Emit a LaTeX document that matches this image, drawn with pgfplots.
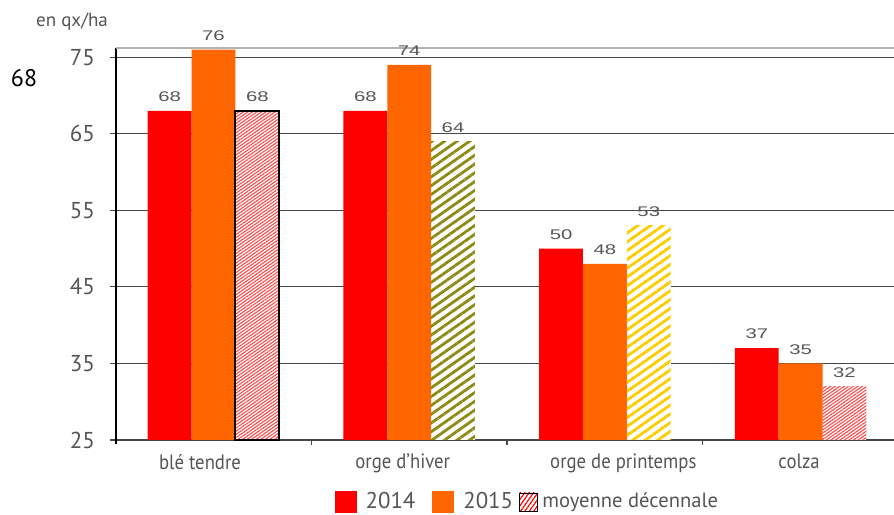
\documentclass[border=0pt]{standalone}
\usepackage{pgfplots}
\pgfplotsset{compat=1.18}
\usepackage{fontspec}
\setmainfont{PT Sans}
\newfontfamily\catfont[FakeStretch=0.9]{PT Sans}
\newfontfamily\widefont[FakeStretch=1.45]{Liberation Sans}
\usetikzlibrary{patterns.meta}
\definecolor{rA}{RGB}{255,0,0}
\definecolor{oB}{RGB}{255,102,0}
\definecolor{olv}{RGB}{140,140,20}
\definecolor{yel}{RGB}{255,204,0}
\definecolor{pnk}{RGB}{255,70,70}
\definecolor{gridc}{RGB}{70,70,70}
\definecolor{txt}{RGB}{85,85,85}
\begin{document}
\begin{tikzpicture}
\path[use as bounding box] (0,0) rectangle (447pt,257pt);
\node[font=\fontsize{12}{13}\selectfont, text=black] at (12pt,218pt) {68};
\node[font=\fontsize{9.5}{11}\selectfont, text=txt] at (36pt,246pt) {en qx/ha};
\begin{axis}[
  at={(58pt,37pt)}, anchor=south west,
  scale only axis, width=389pt, height=196pt,
  xmin=-0.498, xmax=3.477, ymin=25, ymax=76.2,
  axis x line*=bottom, axis y line*=left,
  axis line style={-},
  x axis line style={draw=gridc, line width=0.6pt},
  y axis line style={draw=black, line width=0.9pt},
  ytick={25,35,45,55,65,75},
  xtick={-0.069,0.967,2.094,2.992},
  xticklabels={blé tendre, orge d’hiver, orge de printemps, colza},
  xtick style={draw=none},
  minor xtick={0.5,1.5,2.5},
  minor x tick style={draw=gridc, line width=0.6pt},
  minor tick length=2.5pt,
  ytick style={draw=gridc, line width=0.6pt},
  tick align=outside, major tick length=3pt,
  ymajorgrids, grid style={draw=gridc, line width=0.6pt},
  /pgf/number format/assume math mode=true,
  yticklabel style={font=\fontsize{11.5}{13}\selectfont, text=txt, xshift=-4pt},
  xticklabel style={font=\catfont\fontsize{10.4}{12}\selectfont, text=txt, yshift=-0.5pt},
  bar width=0.224,
  nodes near coords,
  nodes near coords style={font=\widefont\fontsize{7}{8}\selectfont, text=txt, anchor=south, yshift=1pt},
  legend style={at={(0.53,-0.158)}, anchor=center, draw=none, fill=none,
    legend columns=3, font=\fontsize{10.3}{12}\selectfont, text=txt,
    /tikz/column 1/.style={column sep=2.5pt},
    /tikz/column 2/.style={column sep=6.5pt},
    /tikz/column 3/.style={column sep=2.5pt},
    /tikz/column 4/.style={column sep=1pt},
    /tikz/column 5/.style={column sep=0pt}},
  legend image code/.code={\fill[#1] (0pt,-5.5pt) rectangle (11pt,5.5pt);},
  clip=false,
]
\draw[gray!60, line width=0.6pt] (rel axis cs:0,1) -- (rel axis cs:1,1);
\draw[black, line width=0.9pt] (rel axis cs:0,0) -- ([yshift=-2pt]rel axis cs:0,0);
\addplot[ybar, bar shift=0pt, fill=rA, draw=none] coordinates {(-0.224,68) (0.776,68) (1.776,50) (2.776,37)};
\addlegendentry{\fontsize{11.4}{13}\selectfont 2014}
\addplot[ybar, bar shift=0pt, fill=oB, draw=none] coordinates {(0,76) (1,74) (2,48) (3,35)};
\addlegendentry{\fontsize{11.4}{13}\selectfont 2015}
\addplot[ybar, bar shift=0pt, draw=black, line width=0.9pt, fill=white, postaction={pattern={Lines[angle=35,distance=1.3pt,line width=0.55pt]}, pattern color=pnk}, forget plot] coordinates {(0.224,68)};
\addplot[ybar, bar shift=0pt, draw=none, fill=white, postaction={pattern={Lines[angle=35,distance=3.6pt,line width=1.4pt]}, pattern color=olv}, forget plot] coordinates {(1.224,64)};
\addplot[ybar, bar shift=0pt, draw=none, fill=white, postaction={pattern={Lines[angle=35,distance=3.6pt,line width=1.4pt]}, pattern color=yel}, forget plot] coordinates {(2.224,53)};
\addplot[ybar, bar shift=0pt, draw=none, fill=white, postaction={pattern={Lines[angle=35,distance=1.3pt,line width=0.55pt]}, pattern color=pnk}, forget plot] coordinates {(3.224,32)};
\addlegendimage{legend image code/.code={\fill[white] (0pt,-4.5pt) rectangle (9pt,4.5pt); \fill[pattern={Lines[angle=55,distance=1.8pt,line width=0.6pt]}, pattern color=rA] (0pt,-4.5pt) rectangle (9pt,4.5pt);}}
\addlegendentry{moyenne décennale}
\end{axis}
\end{tikzpicture}
\end{document}
